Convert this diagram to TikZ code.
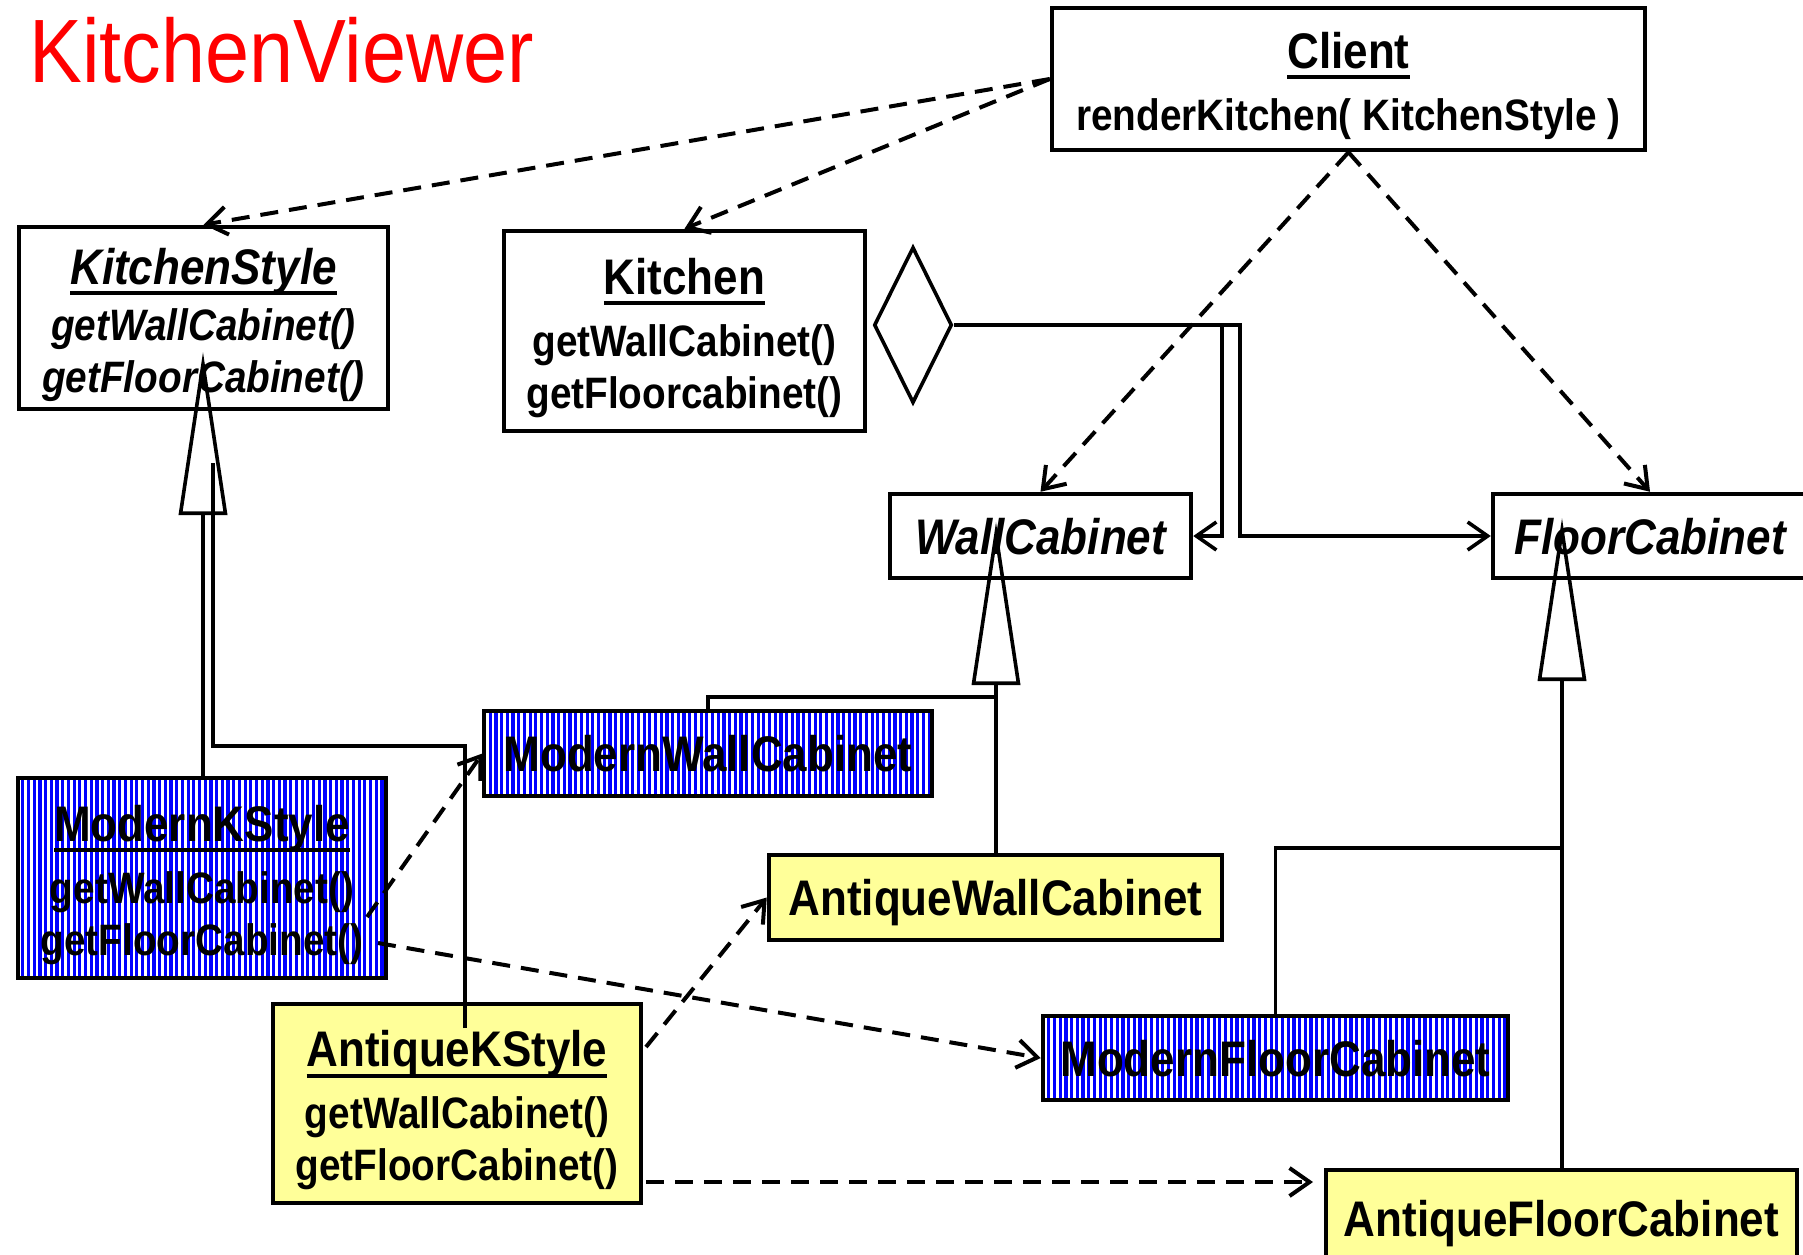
\documentclass[tikz,border=0pt]{standalone}
\usepackage{fontspec}
\setmainfont[FakeStretch=0.88]{Liberation Sans}
\usetikzlibrary{arrows.meta,shapes.geometric,patterns.meta}

\definecolor{antiqueyellow}{HTML}{FFFF99}
\newcommand\clsname{\fontsize{50}{58}\selectfont\bfseries}
\newcommand\clsop{\fontsize{44}{52}\selectfont\bfseries}
% underline with a fixed offset and thickness
\newcommand\undl[1]{\setbox0=\hbox{#1}\rlap{\rule[-11pt]{\wd0}{4pt}}\box0}
% class name line of a class box
\newcommand\clshead[1]{{\clsname\rule{0pt}{50pt}\undl{#1}}}

\begin{document}
\begin{tikzpicture}[x=1pt,y=-1pt,
  box/.style={draw=black, line width=4.5pt, inner sep=0pt, fill=white},
  multi/.style={box, align=center, font=\clsop},
  single/.style={box, font=\clsname, text height=36pt, text depth=0pt},
  antiquebox/.style={fill=antiqueyellow},
  modernbox/.style={pattern={Lines[angle=90,distance=5.7pt,line width=3.2pt]}, pattern color=blue},
  link/.style={line width=3.6pt},
  dep/.style={line width=4pt, dash pattern=on 18pt off 11pt, -{Straight Barb[length=20pt,width=28pt]}},
  nav/.style={link, -{Straight Barb[length=20pt,width=28pt]}},
  gen/.style={link, -{Triangle[open,length=163pt,width=48pt]}},
]
\useasboundingbox (0,0) rectangle (1803,1254);
\clip (0,0) rectangle (1803,1254);
\fill[white] (0,0) rectangle (1803,1254);

% title
\node[anchor=base west, inner sep=0pt, text=red, font=\fontsize{90}{100}\selectfont] (title) at (29,82) {KitchenViewer};

% classes
\node[multi, minimum width=593pt, minimum height=142pt] (client) at (1348.5,79)
  {\clshead{Client}\\[10pt]renderKitchen( KitchenStyle )};
\node[multi, font=\clsop\itshape, minimum width=369pt, minimum height=182pt] (kstyle) at (203.5,318)
  {\clshead{KitchenStyle}\\[4pt]getWallCabinet()\\getFloorCabinet()};
\node[multi, minimum width=361pt, minimum height=200pt] (kitchen) at (684.5,331)
  {\clshead{Kitchen}\\[10pt]getWallCabinet()\\getFloorcabinet()};
\node[single, font=\clsname\itshape, minimum width=301pt, minimum height=84pt] (wall) at (1040.5,536) {WallCabinet};
\node[single, font=\clsname\itshape, minimum width=314pt, minimum height=84pt] (floor) at (1650,536) {FloorCabinet};
\node[single, modernbox, minimum width=448pt, minimum height=85pt] (mwall) at (708,753.5) {ModernWallCabinet};
\node[single, antiquebox, minimum width=453pt, minimum height=85pt] (awall) at (995.5,897.5) {AntiqueWallCabinet};
\node[single, modernbox, minimum width=465pt, minimum height=84pt] (mfloor) at (1275.5,1058) {ModernFloorCabinet};
\node[single, antiquebox, minimum width=471pt, minimum height=96pt] (afloor) at (1561.5,1218) {AntiqueFloorCabinet};
\node[multi, modernbox, minimum width=368pt, minimum height=200pt] (mkstyle) at (202,878)
  {\clshead{ModernKStyle}\\[10pt]getWallCabinet()\\getFloorCabinet()};
\node[multi, antiquebox, minimum width=368pt, minimum height=199pt] (akstyle) at (457,1103.5)
  {\clshead{AntiqueKStyle}\\[10pt]getWallCabinet()\\getFloorCabinet()};

% aggregation diamond
\node[diamond, draw, line width=3.6pt, fill=white, inner sep=0pt, minimum width=78pt, minimum height=156pt] (agg) at (913,325) {};

% connector points
\coordinate (kstip) at (203,352);
\coordinate (walltip) at (996,522);
\coordinate (floortip) at (1562,518);
\coordinate (akin) at (465,1028);
\coordinate (akbend) at (465,746);
\coordinate (ksin) at (213,463);
\coordinate (mwbranch) at (996,697);
\coordinate (mfbranch) at (1562,848);
\coordinate (aggw) at (1222,325);
\coordinate (aggf) at (1240,325);
\coordinate (mkw) at (367,917);
\coordinate (mkf) at (378,943);
\coordinate (akw) at (646,1047);
\coordinate (akf) at (646,1182);
\coordinate (afend) at (1313,1182);

% generalizations
\draw[gen] (kstip |- mkstyle.north) -- (kstip);
\draw[link] (akin) -- (akbend) -| (ksin);
\draw[gen] (walltip |- awall.north) -- (walltip);
\draw[link] (mwall.north) |- (mwbranch);
\draw[gen] (floortip |- afloor.north) -- (floortip);
\draw[link] (mfloor.north) |- (mfbranch);

% aggregation
\draw[nav] (agg.east) -- (aggw) |- (wall.east);
\draw[nav] (agg.east) -- (aggf) |- (floor.west);

% dependencies
\draw[dep] (client.west) -- (kstyle.north);
\draw[dep] (client.west) -- (kitchen.north);
\draw[dep] (client.south) -- (wall.north);
\draw[dep] (client.south) -- (floor.north);
\draw[dep] (mkw) -- (mwall.west);
\draw[dep] (mkf) -- (mfloor.west);
\draw[dep] (akw) -- (awall.west);
\draw[dep] (akf) -- (afend);
\end{tikzpicture}
\end{document}
